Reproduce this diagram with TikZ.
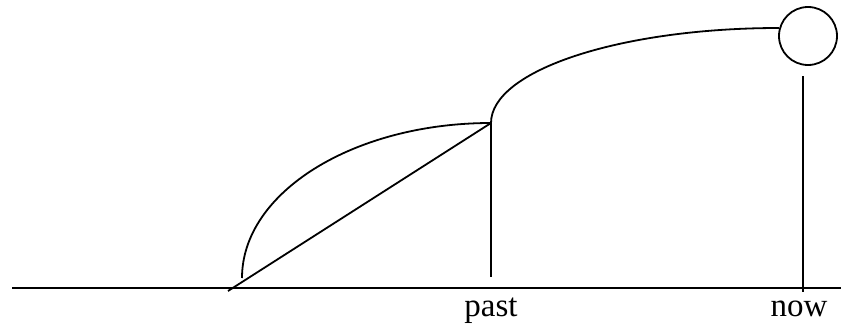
\documentclass[tikz,border=0pt]{standalone}
\usepackage{fontspec}
\setmainfont{Liberation Serif}
\begin{document}
\begin{tikzpicture}[x=1pt,y=-1pt,
  ln/.style={line width=1.8pt, black},
  lbl/.style={anchor=base, inner sep=0pt, font=\fontsize{33}{36}\selectfont}]
\useasboundingbox (0,0) rectangle (841,324);
% points
\coordinate (axisL) at (12,288);
\coordinate (axisR) at (841,288);
\coordinate (diagS) at (228,291);
\coordinate (arcS) at (242,278);
\coordinate (past) at (491,123);
\coordinate (pastB) at (491,277);
\coordinate (nowT) at (803,76);
\coordinate (nowB) at (803,292);
\node[ln, draw, circle, minimum size=58pt, inner sep=0pt] (nowc) at (808,36) {};
% axis
\draw[ln] (axisL) -- (axisR);
% diagonal
\draw[ln] (diagS) -- (past);
% small arc
\draw[ln] (arcS) arc[start angle=180, end angle=270, x radius=249, y radius=155];
% big arc
\draw[ln] (past) arc[start angle=180, end angle=270, x radius=288, y radius=95];
% verticals
\draw[ln] (past) -- (pastB);
\draw[ln] (nowT) -- (nowB);
% labels
\node[lbl] (pastlbl) at (491,316) {past};
\node[lbl] (nowlbl) at (799,316) {now};
\end{tikzpicture}
\end{document}
